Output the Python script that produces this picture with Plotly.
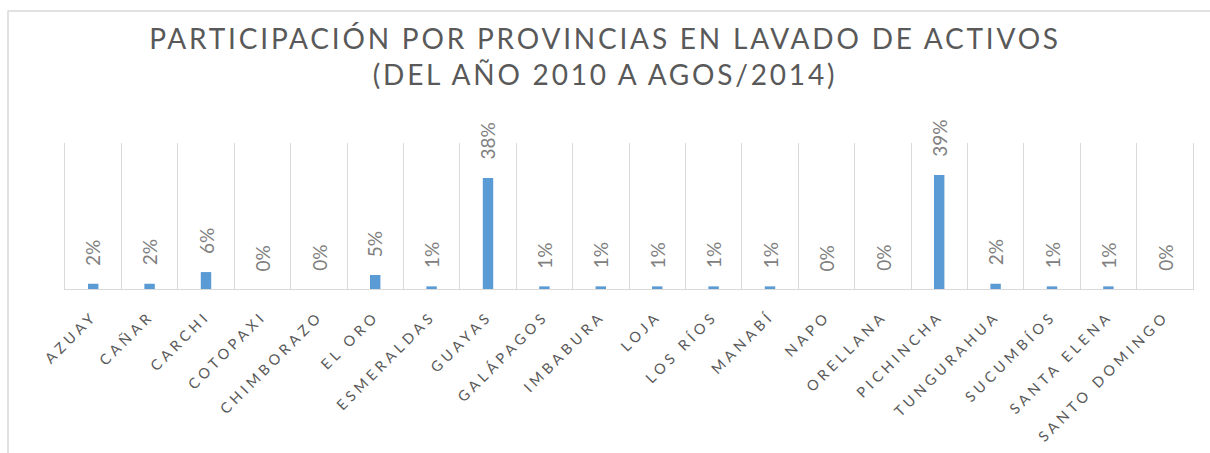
import plotly.graph_objects as go

provincias = ["AZUAY", "CAÑAR", "CARCHI", "COTOPAXI", "CHIMBORAZO", "EL ORO",
              "ESMERALDAS", "GUAYAS", "GALÁPAGOS", "IMBABURA", "LOJA", "LOS RÍOS",
              "MANABÍ", "NAPO", "ORELLANA", "PICHINCHA", "TUNGURAHUA", "SUCUMBÍOS",
              "SANTA ELENA", "SANTO DOMINGO"]
participacion = [0.018, 0.018, 0.058, 0.0, 0.0, 0.048, 0.009, 0.38, 0.009, 0.009,
                 0.009, 0.009, 0.009, 0.0, 0.0, 0.39, 0.018, 0.009, 0.009, 0.0]
etiquetas = [f"{round(v * 100)}%" for v in participacion]

titulo = "PARTICIPACIÓN POR PROVINCIAS EN LAVADO DE ACTIVOS<br>(DEL AÑO 2010 A AGOS/2014)"

FONT = "Lato, 'Open Sans', sans-serif"

fig = go.Figure()
fig.add_trace(go.Bar(
    x=provincias, y=participacion,
    marker=dict(color="#5B9BD5", line=dict(width=0)),
    hoverinfo="x+y",
))

for p, v, t in zip(provincias, participacion, etiquetas):
    fig.add_annotation(x=p, y=v, text=t, textangle=-90, showarrow=False,
                       yanchor="bottom", xanchor="center", yshift=16,
                       font=dict(family=FONT, size=19, color="#808080"))

fig.update_layout(
    width=1210, height=453,
    margin=dict(l=65, r=17, t=143, b=164, autoexpand=False),
    paper_bgcolor="white", plot_bgcolor="white",
    bargap=0.815,
    showlegend=False,
    title=dict(text=titulo, x=0.5, xanchor="center", xref="container",
               y=1 - 49 / 453, yanchor="top", yref="container",
               font=dict(family=FONT, size=28, color="#595959")),
    xaxis=dict(type="category", tickson="boundaries", showgrid=True, automargin=False,
               gridcolor="#D9D9D9", gridwidth=1, showline=True, linecolor="#D9D9D9",
               linewidth=1, ticks="", tickangle=-45, ticklabelstandoff=12,
               tickfont=dict(family=FONT, size=14.5, color="#595959")),
    yaxis=dict(range=[0, 0.5], showticklabels=False, ticks="", showgrid=False,
               zeroline=False, showline=True, mirror=True, linecolor="#D9D9D9",
               linewidth=1, automargin=False),
    shapes=[dict(type="rect", xref="paper", yref="paper",
                 x0=(8 - 65) / 1128, x1=1.2, y0=-2, y1=(289 - 11) / 146,
                 line=dict(color="#D9D9D9", width=1.5), fillcolor="rgba(0,0,0,0)",
                 layer="below")],
)

css = ("body{margin:0}"
       ".gtitle{letter-spacing:2.8px}"
       ".xtick text{letter-spacing:4px}")
post = ("var s=document.createElement('style');s.textContent='" + css +
        "';document.head.appendChild(s);")

fig.write_html("out.html", post_script=post, config={"displayModeBar": False})
